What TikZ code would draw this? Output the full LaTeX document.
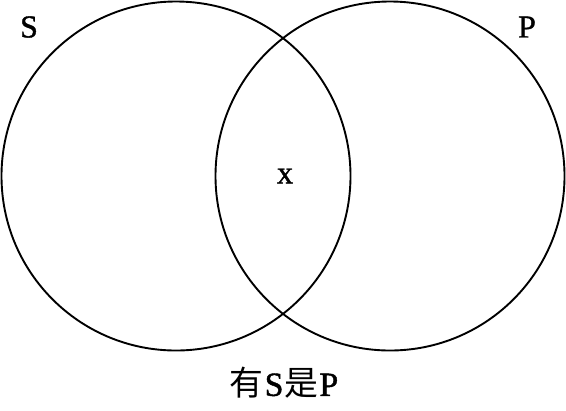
\documentclass[tikz,border=0pt]{standalone}
\usepackage{fontspec}
\setmainfont{Liberation Serif}[FakeBold=1.2]
\newfontfamily\cjk{Noto Sans CJK SC}
\newfontfamily\serifb{Liberation Serif}[FakeBold=1.2]
\begin{document}
\begin{tikzpicture}[x=1bp,y=-1bp,
  ring/.style={draw=black,line width=1.9bp},
  lab/.style={inner sep=0pt,font=\serifb\fontsize{32}{32}\selectfont}]
\useasboundingbox (0,0) rectangle (566,410);
\draw[ring] (176,176) circle[radius=174.5];
\draw[ring] (390,176) circle[radius=174.5];
\node[lab] (s) at (29,27) {S};
\node[lab] (p) at (527,27) {P};
\node[lab] (x) at (285,176) {x};
\node[lab,font=\serifb\fontsize{34}{34}\selectfont] (t) at (284,383) {{\cjk 有}\kern1bp S\kern1bp{\cjk 是}\kern1bp P};
\end{tikzpicture}
\end{document}
